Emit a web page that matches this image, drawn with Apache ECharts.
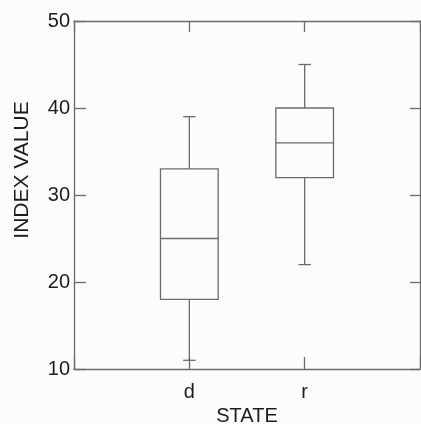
<!DOCTYPE html>
<html>
<head>
<meta charset="utf-8">
<script src="https://cdn.jsdelivr.net/npm/echarts@6/dist/echarts.min.js"></script>
<style>
html,body{margin:0;padding:0;background:#fcfcfc;}
#chart{width:421px;height:424px;}
</style>
</head>
<body>
<div id="chart"></div>
<script>
// Data
var categories = ['d', 'r'];
var lowWhisker = [11, 22];
var q1 = [18, 32];
var median = [25, 36];
var q3 = [33, 40];
var highWhisker = [39, 45];
var yTicks = [10, 20, 30, 40, 50];

var lineColor = '#6b6b6b';
var textColor = '#1c1c1c';
var fontFamily = '"Liberation Sans", Arial, sans-serif';

var seriesData = categories.map(function (c, i) {
  return [i + 1, lowWhisker[i], q1[i], median[i], q3[i], highWhisker[i]];
});

function renderItem(params, api) {
  var x = api.value(0);
  var step = api.size([1, 0])[0];
  var halfBox = step * 0.25;
  var halfCap = step * 0.054;
  var pLow = api.coord([x, api.value(1)]);
  var pQ1 = api.coord([x, api.value(2)]);
  var pMed = api.coord([x, api.value(3)]);
  var pQ3 = api.coord([x, api.value(4)]);
  var pHigh = api.coord([x, api.value(5)]);
  var cx = pMed[0];
  var st = {stroke: lineColor, lineWidth: 1.3, fill: null};
  return {
    type: 'group',
    children: [
      {type: 'rect', shape: {x: cx - halfBox, y: pQ3[1], width: halfBox * 2, height: pQ1[1] - pQ3[1]}, style: {stroke: lineColor, lineWidth: 1.3, fill: 'none'}},
      {type: 'line', shape: {x1: cx - halfBox, y1: pMed[1], x2: cx + halfBox, y2: pMed[1]}, style: st},
      {type: 'line', shape: {x1: cx, y1: pQ3[1], x2: cx, y2: pHigh[1]}, style: st},
      {type: 'line', shape: {x1: cx, y1: pQ1[1], x2: cx, y2: pLow[1]}, style: st},
      {type: 'line', shape: {x1: cx - halfCap, y1: pHigh[1], x2: cx + halfCap, y2: pHigh[1]}, style: st},
      {type: 'line', shape: {x1: cx - halfCap, y1: pLow[1], x2: cx + halfCap, y2: pLow[1]}, style: st}
    ]
  };
}

var chart = echarts.init(document.getElementById('chart'), null, {renderer: 'canvas'});
var axisLine = {show: true, onZero: false, lineStyle: {color: lineColor, width: 1.3}};
var option = {
  backgroundColor: '#fcfcfc',
  animation: false,
  grid: {left: 74, right: 1, top: 21, bottom: 55, containLabel: false, outerBoundsMode: 'none'},
  xAxis: [
    {
      type: 'value', position: 'bottom', min: 0, max: categories.length + 1, interval: 1,
      axisLine: axisLine,
      axisTick: {show: true, inside: true, length: 12, lineStyle: {color: lineColor, width: 1.3}},
      axisLabel: {
        color: textColor, fontSize: 20, fontFamily: fontFamily, margin: 13,
        formatter: function (v) { return categories[v - 1] || ''; }
      },
      splitLine: {show: false},
      name: 'STATE', nameLocation: 'middle', nameGap: 35,
      nameTextStyle: {color: textColor, fontSize: 20, fontFamily: fontFamily}
    },
    {
      type: 'value', position: 'top', min: 0, max: categories.length + 1, interval: 1,
      axisLine: axisLine,
      axisTick: {show: true, inside: true, length: 11, lineStyle: {color: lineColor, width: 1.3}},
      axisLabel: {show: true, formatter: function () { return ''; }},
      splitLine: {show: false}
    }
  ],
  yAxis: [
    {
      type: 'value', position: 'left', min: yTicks[0], max: yTicks[yTicks.length - 1], interval: 10,
      axisLine: axisLine,
      axisTick: {show: true, inside: true, length: 12, lineStyle: {color: lineColor, width: 1.3}},
      axisLabel: {color: textColor, fontSize: 20, fontFamily: fontFamily, margin: 4},
      splitLine: {show: false}
    },
    {
      type: 'value', position: 'right', min: yTicks[0], max: yTicks[yTicks.length - 1], interval: 10,
      axisLine: axisLine,
      axisTick: {show: true, inside: true, length: 10, lineStyle: {color: lineColor, width: 1.3}},
      axisLabel: {show: false},
      splitLine: {show: false}
    }
  ],
  graphic: [
    {
      type: 'text', x: 12, y: 170, rotation: Math.PI / 2, originX: 0, originY: 0,
      style: {text: 'INDEX VALUE', fill: textColor, font: '21px ' + fontFamily, align: 'center', verticalAlign: 'top'}
    }
  ],
  series: [
    {
      type: 'custom',
      renderItem: renderItem,
      encode: {x: 0, y: [1, 2, 3, 4, 5]},
      data: seriesData
    }
  ]
};
chart.setOption(option);
</script>
</body>
</html>
